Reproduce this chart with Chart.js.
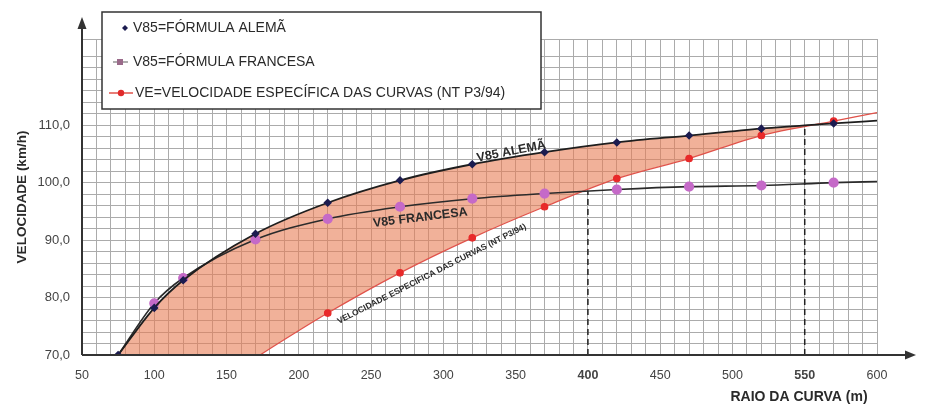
<!DOCTYPE html>
<html><head><meta charset="utf-8">
<script src="https://cdn.jsdelivr.net/npm/chart.js@4"></script>
<style>html,body{margin:0;padding:0;background:#fff}#wrap{width:925px;height:406px}</style>
</head><body><div id="wrap"><canvas id="c" width="925" height="406"></canvas></div>
<script>
// ---- data ----
const alemaX     = [75, 100, 120, 170, 220, 270, 320, 370, 420, 470, 520, 570, 600];
const alemaY     = [70.0, 78.2, 83.0, 91.1, 96.5, 100.4, 103.2, 105.3, 107.0, 108.2, 109.4, 110.3, 110.8];
const francesaX  = [75, 100, 120, 170, 220, 270, 320, 370, 420, 470, 520, 570, 600];
const francesaY  = [70.0, 79.0, 83.4, 90.1, 93.7, 95.8, 97.2, 98.1, 98.8, 99.3, 99.5, 100.0, 100.2];
const veX        = [75, 170, 220, 270, 320, 370, 420, 470, 520, 570, 600];
const veY        = [54.0, 69.5, 77.3, 84.3, 90.4, 95.8, 100.7, 104.2, 108.2, 110.7, 112.2];
const alemaMarked    = [1,1,1,1,1,1,1,1,1,1,1,1,0];
const francesaMarked = [0,1,1,1,1,1,1,1,1,1,1,1,0];
const veMarked       = [0,0,1,1,1,1,1,1,1,1,0];
const refX   = [400, 550];
const refTop = [98.6, 110.0];
const xBoldTicks = [400, 550];
const seriesNames = ['V85=FÓRMULA ALEMÃ', 'V85=FÓRMULA FRANCESA', 'VE=VELOCIDADE ESPECÍFICA DAS CURVAS (NT P3/94)'];
const curveNames  = ['V85 ALEMÃ', 'V85 FRANCESA', 'VELOCIDADE ESPECÍFICA DAS CURVAS (NT P3/94)'];
const xTitle = 'RAIO DA CURVA (m)';
const yTitle = 'VELOCIDADE (km/h)';

const FONT = '"Liberation Sans", Arial, sans-serif';
const pts = (xs, ys) => xs.map((x, i) => ({x, y: ys[i]}));

const datasets = [
  { label: seriesNames[0], data: pts(alemaX, alemaY), borderColor: '#1e1e1e', borderWidth: 1.8,
    pointStyle: 'rectRot', pointRadius: alemaMarked.map(m => m ? 3 : 0),
    pointBackgroundColor: '#1c1c50', pointBorderColor: '#1c1c50',
    cubicInterpolationMode: 'monotone',
    fill: { target: 2, above: 'rgba(232,125,85,0.6)', below: 'rgba(0,0,0,0)' } },
  { label: seriesNames[1], data: pts(francesaX, francesaY), borderColor: '#2b2b2b', borderWidth: 1.6,
    pointStyle: 'circle', pointRadius: francesaMarked.map(m => m ? 4.3 : 0),
    pointBackgroundColor: '#c56ac8', pointBorderColor: '#c56ac8',
    cubicInterpolationMode: 'monotone', fill: false },
  { label: seriesNames[2], data: pts(veX, veY), borderColor: '#e0524a', borderWidth: 1.3,
    pointStyle: 'circle', pointRadius: veMarked.map(m => m ? 3.2 : 0),
    pointBackgroundColor: '#e82a2a', pointBorderColor: '#e82a2a',
    cubicInterpolationMode: 'monotone', fill: false },
];
refX.forEach((x, i) => datasets.push({
  label: 'ref' + x, data: [{x, y: 70}, {x, y: refTop[i]}], borderColor: '#222', borderWidth: 1.5,
  borderDash: [6, 4], pointRadius: 0, fill: false, tension: 0
}));

const decor = {
  id: 'decor',
  afterDatasetsDraw(chart) {
    const {ctx, chartArea: a, scales: {x, y}} = chart;
    ctx.save();
    // axes with arrows
    ctx.strokeStyle = '#333'; ctx.fillStyle = '#333'; ctx.lineWidth = 2;
    ctx.beginPath(); ctx.moveTo(a.left, a.bottom); ctx.lineTo(908, a.bottom); ctx.stroke();
    ctx.beginPath(); ctx.moveTo(916, a.bottom); ctx.lineTo(905, a.bottom - 4.5); ctx.lineTo(905, a.bottom + 4.5); ctx.closePath(); ctx.fill();
    ctx.beginPath(); ctx.moveTo(a.left, a.bottom); ctx.lineTo(a.left, 26); ctx.stroke();
    ctx.beginPath(); ctx.moveTo(a.left, 17); ctx.lineTo(a.left - 4.5, 29); ctx.lineTo(a.left + 4.5, 29); ctx.closePath(); ctx.fill();
    // curve labels
    const lab = (t, vx, vy, ang, size) => {
      ctx.save();
      ctx.translate(x.getPixelForValue(vx), y.getPixelForValue(vy));
      ctx.rotate(ang * Math.PI / 180);
      ctx.font = 'bold ' + size + 'px ' + FONT;
      ctx.fillStyle = '#2a2a2a'; ctx.textAlign = 'center'; ctx.textBaseline = 'middle';
      ctx.fillText(t, 0, 0);
      ctx.restore();
    };
    lab(curveNames[0], 347, 105.4, -11, 12.5);
    lab(curveNames[1], 284, 93.9, -7, 12.5);
    lab(curveNames[2], 292, 84.1, -27, 8.5);
    // axis titles
    ctx.fillStyle = '#2a2a2a';
    ctx.font = 'bold 14px ' + FONT; ctx.textAlign = 'center'; ctx.textBaseline = 'middle';
    ctx.fillText(xTitle, 799, 397);
    ctx.save(); ctx.translate(22, 197); ctx.rotate(-Math.PI / 2);
    ctx.font = 'bold 13.5px ' + FONT; ctx.fillText(yTitle, 0, 0); ctx.restore();
    ctx.restore();
  },
  afterDraw(chart) {
    const {ctx} = chart;
    ctx.save();
    ctx.fillStyle = '#fff'; ctx.strokeStyle = '#333'; ctx.lineWidth = 1.5;
    ctx.fillRect(102, 12, 439, 97); ctx.strokeRect(102, 12, 439, 97);
    ctx.font = '14px ' + FONT; ctx.fillStyle = '#2a2a2a'; ctx.textBaseline = 'middle'; ctx.textAlign = 'left';
    // item 1
    ctx.fillStyle = '#1c1c50';
    ctx.beginPath(); ctx.moveTo(125, 25); ctx.lineTo(128, 28); ctx.lineTo(125, 31); ctx.lineTo(122, 28); ctx.closePath(); ctx.fill();
    ctx.fillStyle = '#2a2a2a'; ctx.fillText(seriesNames[0], 133, 28);
    // item 2
    ctx.strokeStyle = '#777'; ctx.lineWidth = 1.2;
    ctx.beginPath(); ctx.moveTo(113, 62); ctx.lineTo(128, 62); ctx.stroke();
    ctx.fillStyle = '#9a6a8a'; ctx.fillRect(117, 59, 6, 6);
    ctx.fillStyle = '#2a2a2a'; ctx.fillText(seriesNames[1], 133, 62);
    // item 3
    ctx.strokeStyle = '#e0524a'; ctx.lineWidth = 1.5;
    ctx.beginPath(); ctx.moveTo(109, 93); ctx.lineTo(133, 93); ctx.stroke();
    ctx.fillStyle = '#e02a2a'; ctx.beginPath(); ctx.arc(121, 93, 3.2, 0, 2 * Math.PI); ctx.fill();
    ctx.fillStyle = '#2a2a2a'; ctx.fillText(seriesNames[2], 135, 93);
    ctx.restore();
  }
};

new Chart(document.getElementById('c'), {
  type: 'line',
  data: { datasets },
  plugins: [decor],
  options: {
    responsive: false, animation: false, devicePixelRatio: 1,
    layout: { padding: { top: 39, right: 48, left: 0, bottom: 0 } },
    plugins: { legend: { display: false }, tooltip: { enabled: false }, filler: { drawTime: 'beforeDatasetsDraw' } },
    scales: {
      x: {
        type: 'linear', min: 50, max: 600,
        afterFit: s => { s.height = 51; },
        border: { display: false },
        grid: { color: '#ababab', lineWidth: 1, drawTicks: false },
        ticks: {
          stepSize: 10, autoSkip: false, maxRotation: 0, padding: 13, color: '#444',
          font: ctx => ({ family: FONT, size: 12.5, weight: (ctx.tick && xBoldTicks.includes(ctx.tick.value)) ? 'bold' : 'normal' }),
          callback: v => (v % 50 === 0 ? String(v) : '')
        }
      },
      y: {
        type: 'linear', min: 70, max: 125,
        afterFit: s => { s.width = 82; },
        border: { display: false },
        grid: { color: '#ababab', lineWidth: 1, drawTicks: false },
        ticks: {
          stepSize: 2, autoSkip: false, padding: 12, color: '#444',
          font: { family: FONT, size: 13 },
          callback: v => (v % 10 === 0 && v <= 110 ? v.toFixed(1).replace('.', ',') : '')
        }
      }
    }
  }
});
</script></body></html>
